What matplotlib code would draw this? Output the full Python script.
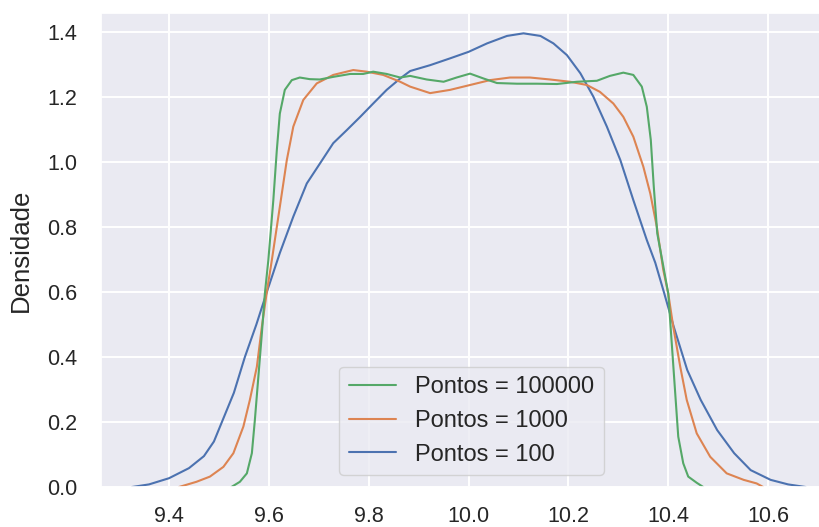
import matplotlib.pyplot as plt
import seaborn as sns

# densidade estimada (KDE) para amostras uniformes entre 9.6 e 10.4
x_100 = [9.326, 9.36, 9.40, 9.44, 9.47, 9.49, 9.506, 9.53, 9.552, 9.575, 9.596,
         9.622, 9.649, 9.676, 9.703, 9.729, 9.756, 9.783, 9.809, 9.836, 9.863,
         9.883, 9.923, 9.963, 10.0, 10.037, 10.077, 10.11, 10.144, 10.17, 10.197,
         10.224, 10.25, 10.277, 10.304, 10.33, 10.357, 10.374, 10.391, 10.411,
         10.438, 10.465, 10.498, 10.532, 10.565, 10.605, 10.64, 10.675]
y_100 = [0.0, 0.008, 0.027, 0.058, 0.095, 0.14, 0.2, 0.29, 0.4, 0.5, 0.6,
         0.72, 0.832, 0.934, 0.997, 1.058, 1.098, 1.139, 1.18, 1.222, 1.257,
         1.28, 1.298, 1.319, 1.339, 1.365, 1.388, 1.396, 1.388, 1.365, 1.329,
         1.273, 1.201, 1.109, 1.006, 0.883, 0.76, 0.69, 0.601, 0.493,
         0.36, 0.268, 0.175, 0.104, 0.052, 0.022, 0.008, 0.0]

x_1000 = [9.42, 9.455, 9.482, 9.509, 9.529, 9.549, 9.562, 9.576, 9.586, 9.596,
          9.606, 9.622, 9.636, 9.649, 9.669, 9.696, 9.729, 9.769, 9.796, 9.829,
          9.863, 9.883, 9.923, 9.963, 10.003, 10.043, 10.083, 10.123, 10.163,
          10.203, 10.237, 10.263, 10.29, 10.31, 10.33, 10.35, 10.364, 10.377,
          10.39, 10.4, 10.41, 10.424, 10.437, 10.457, 10.484, 10.517, 10.551,
          10.577, 10.59]
y_1000 = [0.0, 0.016, 0.032, 0.062, 0.104, 0.186, 0.268, 0.37, 0.493, 0.601,
          0.698, 0.862, 1.006, 1.109, 1.191, 1.242, 1.268, 1.283, 1.278, 1.268,
          1.247, 1.232, 1.212, 1.222, 1.237, 1.252, 1.26, 1.26, 1.254,
          1.247, 1.237, 1.216, 1.18, 1.139, 1.078, 0.986, 0.903, 0.801,
          0.668, 0.595, 0.493, 0.37, 0.268, 0.165, 0.093, 0.042, 0.022,
          0.011, 0.0]

x_100000 = [9.525, 9.542, 9.556, 9.566, 9.572, 9.579, 9.586, 9.592, 9.599, 9.609,
            9.616, 9.622, 9.632, 9.646, 9.662, 9.682, 9.702, 9.729, 9.763, 9.789,
            9.809, 9.836, 9.863, 9.883, 9.916, 9.95, 9.976, 10.003, 10.03, 10.057,
            10.097, 10.137, 10.177, 10.217, 10.257, 10.283, 10.31, 10.33, 10.347,
            10.357, 10.365, 10.371, 10.378, 10.39, 10.4, 10.407, 10.414, 10.42,
            10.43, 10.44, 10.457, 10.47]
y_100000 = [0.0, 0.016, 0.042, 0.104, 0.206, 0.339, 0.472, 0.595, 0.698, 0.883,
            1.037, 1.149, 1.222, 1.252, 1.26, 1.255, 1.254, 1.262, 1.271, 1.271,
            1.278, 1.271, 1.26, 1.265, 1.254, 1.247, 1.26, 1.272, 1.257, 1.243,
            1.241, 1.241, 1.24, 1.247, 1.25, 1.265, 1.275, 1.268, 1.232,
            1.17, 1.068, 0.924, 0.78, 0.68, 0.595, 0.442, 0.287, 0.155,
            0.073, 0.032, 0.013, 0.0]

legenda = ["Pontos = 100000", "Pontos = 1000", "Pontos = 100"]
x_ticks = [9.4, 9.6, 9.8, 10.0, 10.2, 10.4, 10.6]
y_ticks = [0.0, 0.2, 0.4, 0.6, 0.8, 1.0, 1.2, 1.4]

sns.set_theme(style="darkgrid")
plt.rcParams['font.family'] = ['Liberation Sans', 'DejaVu Sans']

cores = sns.color_palette("deep")

fig = plt.figure(figsize=(8.19, 5.27), dpi=100)
ax = fig.add_axes([0.1233, 0.0759, 0.9048, 0.8994])

l100, = ax.plot(x_100, y_100, color=cores[0], lw=1.5)
l1000, = ax.plot(x_1000, y_1000, color=cores[1], lw=1.5)
l100000, = ax.plot(x_100000, y_100000, color=cores[2], lw=1.5)

ax.set_xlim(9.2638, 10.748)
ax.set_ylim(0, 1.4585)
ax.set_xticks(x_ticks)
ax.set_yticks(y_ticks)
ax.set_xticklabels(["%.1f" % v for v in x_ticks])
ax.set_yticklabels(["%.1f" % v for v in y_ticks])
ax.grid(True, color="white", lw=1.4)
ax.tick_params(axis="x", length=0, pad=14, labelsize=15.5, colors="0.15")
ax.tick_params(axis="y", length=0, pad=17, labelsize=15.5, colors="0.15")
ax.set_ylabel("Densidade", fontsize=18.5, labelpad=10, color="0.15")

ax.legend([l100000, l1000, l100], legenda, loc="lower center", fontsize=17)

fig.savefig("out.png", dpi=100)
